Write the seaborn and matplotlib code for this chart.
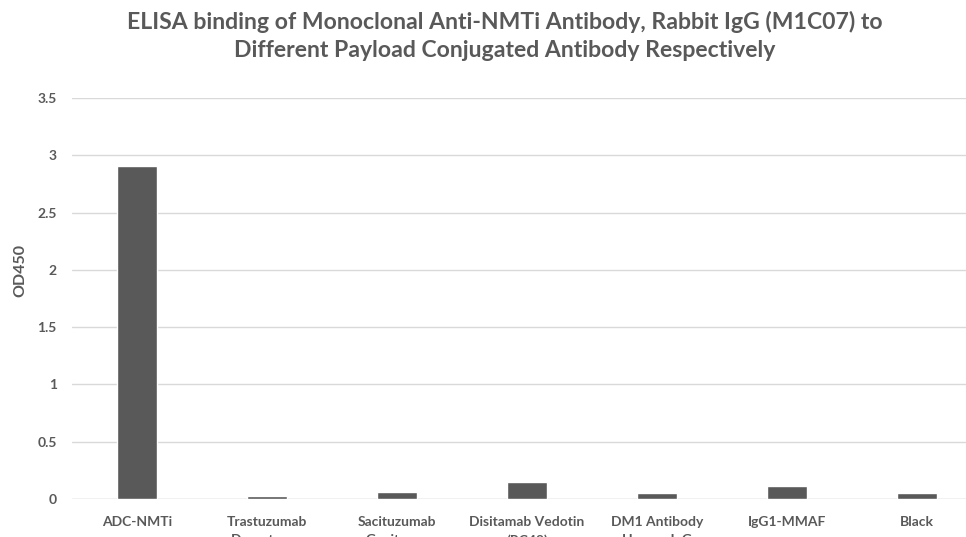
import matplotlib
matplotlib.use("Agg")
import matplotlib.pyplot as plt
import seaborn as sns
import pandas as pd

# --- data ---
categories = [
    "ADC-NMTi",
    "Trastuzumab\nDeruxtecan",
    "Sacituzumab\nGovitecan",
    "Disitamab Vedotin\n(RC48)",
    "DM1 Antibody\nHuman IgG",
    "IgG1-MMAF",
    "Black",
]
od450 = [2.91, 0.026, 0.06, 0.15, 0.056, 0.114, 0.056]
y_ticks = [0, 0.5, 1, 1.5, 2, 2.5, 3, 3.5]
y_tick_labels = ["0", "0.5", "1", "1.5", "2", "2.5", "3", "3.5"]

df = pd.DataFrame({"Sample": categories, "OD450": od450})

sns.set_theme(style="whitegrid")
plt.rcParams["font.family"] = ["Lato", "DejaVu Sans"]

text_col = "#595959"
bar_col = "#595959"

fig = plt.figure(figsize=(9.66, 5.37), dpi=100)
ax = fig.add_axes([72 / 966, 38 / 537, 910 / 966, 401 / 537])

sns.barplot(data=df, x="Sample", y="OD450", color=bar_col, width=0.31,
            saturation=1, ax=ax)

ax.set_ylim(0, 3.5)
ax.set_xlim(-0.5, len(categories) - 0.5)
ax.set_yticks(y_ticks)
ax.set_yticklabels(y_tick_labels)
ax.grid(axis="y", color="#d9d9d9", linewidth=1)
ax.grid(axis="x", visible=False)
for s in ax.spines.values():
    s.set_visible(False)
ax.axhline(0, color="#d9d9d9", linewidth=1, zorder=0)

ax.tick_params(axis="y", labelsize=10, labelcolor=text_col, length=0, pad=11)
ax.tick_params(axis="x", labelsize=10, labelcolor=text_col, length=0, pad=12)
for lbl in ax.get_xticklabels() + ax.get_yticklabels():
    lbl.set_fontweight("bold")
    lbl.set_linespacing(1.6)

ax.set_xlabel("")
ax.set_ylabel("OD450", fontsize=11.5, fontweight="bold", color=text_col)
ax.yaxis.set_label_coords(-0.049, 0.57)

fig.text(505 / 966, 1 - 36 / 537,
         "ELISA binding of Monoclonal Anti-NMTi Antibody, Rabbit IgG (M1C07) to\n"
         "Different Payload Conjugated Antibody Respectively",
         ha="center", va="center", fontsize=16.6, fontweight="bold",
         color=text_col, linespacing=1.38)

fig.savefig("out.png", dpi=100)
